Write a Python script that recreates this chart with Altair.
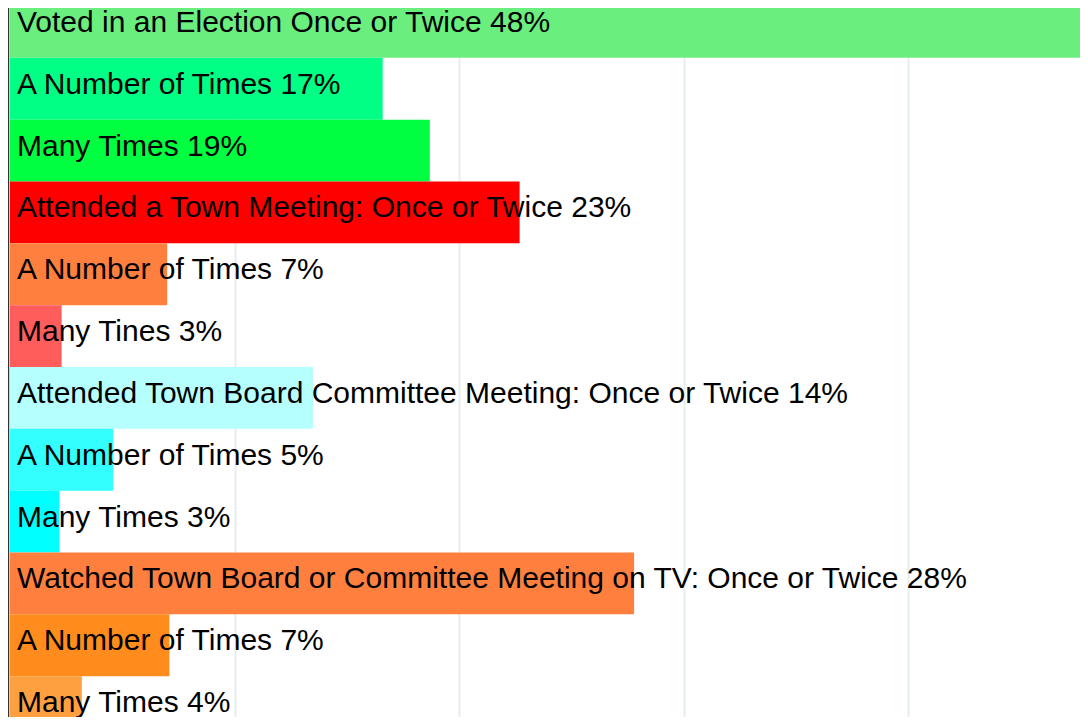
import altair as alt
import pandas as pd

labels = [
    "Voted in an Election Once or Twice 48%",
    "A Number of Times 17%",
    "Many Times 19%",
    "Attended a Town Meeting: Once or Twice 23%",
    "A Number of Times 7%",
    "Many Tines 3%",
    "Attended Town Board Committee Meeting: Once or Twice 14%",
    "A Number of Times 5%",
    "Many Times 3%",
    "Watched Town Board or Committee Meeting on TV: Once or Twice 28%",
    "A Number of Times 7%",
    "Many Times 4%",
]
values = [48.3, 16.6, 18.7, 22.7, 7.0, 2.3, 13.5, 4.6, 2.2, 27.8, 7.1, 3.2]
colors = ["#6aee7e", "#00ff84", "#00ff40", "#ff0000", "#ff7f3f", "#ff5c5c",
          "#b6ffff", "#33ffff", "#00ffff", "#ff7f3f", "#ff8c1c", "#ffa040"]
ids = [f"r{i:02d}" for i in range(len(labels))]

df = pd.DataFrame({"id": ids, "label": labels, "value": values, "color": colors})

x_scale = alt.Scale(domain=[0, 48], range=[2, 1079.6], nice=False, zero=False)
y_scale = alt.Scale(domain=ids, range=[-12, 730], paddingInner=0, paddingOuter=0)

base = alt.Chart(df)

bars = base.mark_bar(clip=True, cornerRadius=0).encode(
    x=alt.X("value:Q", scale=x_scale,
            axis=alt.Axis(values=[10, 20, 30, 40], labels=False, ticks=False,
                          domain=False, title=None, grid=True,
                          gridColor="#e6eef0", gridWidth=2)),
    x2=alt.datum(0),
    y=alt.Y("id:N", scale=y_scale,
            axis=alt.Axis(labels=False, ticks=False, title=None, domain=True,
                          domainColor="#333333", domainWidth=1.5, grid=False)),
    color=alt.Color("color:N", scale=None),
)

text = base.mark_text(align="left", baseline="middle", dx=7, dy=-4,
                      font="Liberation Sans", fontSize=30, color="#000000",
                      clip=True).encode(
    x=alt.datum(0),
    y=alt.Y("id:N", scale=y_scale),
    text="label:N",
)

chart = alt.layer(bars, text).properties(
    width=1072, height=709,
    autosize=alt.AutoSizeParams(type="none"),
    padding=0,
).configure_view(stroke=None)

chart.save("out.html", embed_options={"renderer": "svg", "actions": False})
